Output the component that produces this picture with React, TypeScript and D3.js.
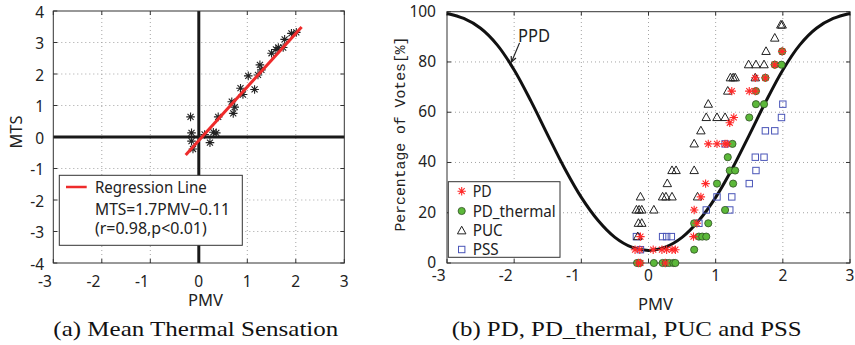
import React from "react";
import * as d3 from "d3";

// ---------- data ----------
const pmvTicks = [-3, -2, -1, 0, 1, 2, 3];
const mtsTicks = [-4, -3, -2, -1, 0, 1, 2, 3, 4];
const pctTicks = [0, 20, 40, 60, 80, 100];

// (a) MTS vs PMV
const mtsPMV = [-0.17, -0.15, -0.15, -0.12, 0.12, 0.23, 0.3, 0.36, 0.4, 0.68, 0.71, 0.74, 0.86, 0.91, 1.02, 1.15, 1.22, 1.26, 1.29, 1.5, 1.59, 1.64, 1.74, 1.77, 1.91, 2.01];
const mtsValues = [0.64, 0.13, -0.13, -0.38, 0.08, -0.18, 0.15, 0.13, 0.64, 1.12, 0.75, 0.95, 1.55, 1.35, 1.94, 1.51, 1.97, 2.29, 2.13, 2.66, 2.78, 2.84, 2.84, 3.1, 3.29, 3.32];
const regSlope = 1.7;
const regIntercept = -0.11;
const regRange = [-0.27, 2.12];

// (b) PD, PD_thermal, PUC, PSS
const pdPMV = [-0.15, -0.12, 0.25, -0.2, -0.13, 0.07, 0.2, 0.27, 0.35, 0.4, -0.12, 0.67, 0.72, 0.68, 0.78, 0.85, 0.89, 1.02, 1.14, 1.17, 1.21, 1.27, 1.24, 1.5, 1.59, 1.59, 1.74, 1.88, 1.99];
const pdValues = [0, 0, 0, 5.3, 5.3, 5.3, 5.3, 5.3, 5.3, 5.3, 10.5, 10.5, 15.8, 21.1, 26.3, 31.6, 47.4, 47.4, 47.4, 47.4, 55.8, 57.9, 68.4, 68.4, 68.4, 73.7, 73.7, 78.9, 84.2];

const pdtPMV = [-0.17, -0.13, 0.08, 0.21, 0.26, 0.31, 0.37, 0.4, 0.68, 0.75, 0.8, 0.86, 0.68, 0.89, 1.14, 1.02, 1.26, 1.21, 1.29, 1.18, 1.25, 1.5, 1.6, 1.72, 1.6, 1.74, 1.88, 1.98, 1.99];
const pdtValues = [0, 0, 0, 0, 0, 0, 0, 0, 5.3, 10.5, 10.5, 10.5, 15.8, 15.8, 21.1, 31.6, 31.6, 36.8, 36.8, 42.1, 47.4, 57.9, 63.2, 63.2, 68.4, 73.7, 78.9, 78.9, 84.2];

const pucPMV = [-0.12, -0.18, -0.14, -0.1, -0.15, -0.1, -0.16, 0.08, 0.28, 0.21, 0.26, 0.35, 0.35, 0.41, 0.68, 0.73, 0.68, 0.78, 0.86, 1.02, 1.14, 0.89, 1.18, 1.22, 1.26, 1.29, 1.59, 1.49, 1.6, 1.72, 1.75, 1.88, 1.97, 1.99];
const pucValues = [26.3, 21.1, 21.1, 21.1, 15.8, 15.8, 10.5, 21.1, 31.6, 26.3, 26.3, 26.3, 36.8, 36.8, 36.8, 26.3, 47.4, 52.6, 57.9, 57.9, 57.9, 63.2, 68.4, 73.7, 73.7, 73.7, 73.7, 78.9, 78.9, 78.9, 84.2, 89.5, 94.7, 94.7];

const pssPMV = [-0.18, 0.21, 0.27, 0.34, -0.12, 0.75, 0.86, 1.21, 1.02, 1.24, 1.5, 1.6, 1.59, 1.72, 1.14, 1.74, 1.88, 1.98, 2.0];
const pssValues = [10.5, 10.5, 10.5, 10.5, 5.3, 15.8, 21.1, 21.1, 26.3, 26.3, 31.6, 36.8, 42.1, 42.1, 47.4, 52.6, 52.6, 57.9, 63.2];

// PPD curve
const ppdPMV = [-3, -2.75, -2.5, -2.25, -2, -1.75, -1.5, -1.25, -1, -0.75, -0.5, -0.25, 0, 0.25, 0.5, 0.75, 1, 1.25, 1.5, 1.75, 2, 2.25, 2.5, 2.75, 3];
const ppdValues = [99.3, 97.3, 93.4, 86.7, 76.8, 64.4, 50.9, 37.7, 26.1, 16.9, 10.2, 6.3, 5.0, 6.3, 10.2, 16.9, 26.1, 37.7, 50.9, 64.4, 76.8, 86.7, 93.4, 97.3, 99.3];

const legendLabelsB = ["PD", "PD_thermal", "PUC", "PSS"];
const legendWidthsB = [19, 83, 30, 26];

// ---------- styles ----------
const SANS = "'Noto Sans', 'Liberation Sans', sans-serif";
const RED = "#ff2a2a";
const GREEN = "#5cb83a";
const BLUE = "#4a55b8";

function asteriskPath(r: number) {
  const d = r * 0.7071;
  return `M${-r},0L${r},0M0,${-r}L0,${r}M${-d},${-d}L${d},${d}M${-d},${d}L${d},${-d}`;
}
function trianglePath(s: number) {
  const h = s * 0.9;
  return `M0,${-h * 0.6}L${s / 2},${h * 0.4}L${-s / 2},${h * 0.4}Z`;
}

export default function App() {
  // scales (a)
  const xL = d3.scaleLinear().domain([-3, 3]).range([53.3, 344.3]);
  const yL = d3.scaleLinear().domain([-4, 4]).range([263, 11]);
  // scales (b)
  const xR = d3.scaleLinear().domain([-3, 3]).range([447, 850]);
  const yR = d3.scaleLinear().domain([0, 100]).range([263, 11.7]);

  const regLine = d3.line<number>().x((v) => xL(v)).y((v) => yL(regSlope * v + regIntercept));
  const ppdLine = d3
    .line<number>()
    .x((_, i) => xR(ppdPMV[i]))
    .y((v) => yR(v))
    .curve(d3.curveCatmullRom.alpha(0.5));

  const tickLen = 4;
  const grid = { stroke: "#9a9a9a", strokeWidth: 0.9, strokeDasharray: "1,3" };

  const xTickLabel = (v: number, x: number, y: number, key: string) =>
    v < 0 ? (
      <text key={key} x={x - 1.5} y={y} textAnchor="end" fontSize={15.5} fontFamily={SANS} fill="#222">
        {"-" + Math.abs(v)}
      </text>
    ) : (
      <text key={key} x={x} y={y} textAnchor="middle" fontSize={15.5} fontFamily={SANS} fill="#222">
        {String(v)}
      </text>
    );

  // PPD annotation anchor (data coords)
  const arrowTip = [xR(-2.04), yR(80)];
  const arrowTail = [xR(-1.92), yR(87.6)];
  const ang = Math.atan2(arrowTip[1] - arrowTail[1], arrowTip[0] - arrowTail[0]);
  const ah = 6;
  const a1 = [arrowTip[0] - ah * Math.cos(ang - 0.45), arrowTip[1] - ah * Math.sin(ang - 0.45)];
  const a2 = [arrowTip[0] - ah * Math.cos(ang + 0.45), arrowTip[1] - ah * Math.sin(ang + 0.45)];

  return (
    <div style={{ position: "absolute", left: 0, top: 0 }}>
      <svg width={855} height={345} viewBox="0 0 855 345" style={{ display: "block", background: "#fff" }}>
        <rect x={0} y={0} width={855} height={345} fill="#fff" />

        {/* ================= (a) ================= */}
        <g>
          {pmvTicks.slice(1, -1).map((v) => (
            <line key={"gx" + v} x1={xL(v)} x2={xL(v)} y1={yL(-4)} y2={yL(4)} {...grid} />
          ))}
          {mtsTicks.slice(1, -1).map((v) => (
            <line key={"gy" + v} x1={xL(-3)} x2={xL(3)} y1={yL(v)} y2={yL(v)} {...grid} />
          ))}
          {pmvTicks.map((v) => (
            <g key={"tx" + v}>
              <line x1={xL(v)} x2={xL(v)} y1={yL(-4)} y2={yL(-4) - tickLen} stroke="#333" />
              <line x1={xL(v)} x2={xL(v)} y1={yL(4)} y2={yL(4) + tickLen} stroke="#333" />
            </g>
          ))}
          {mtsTicks.map((v) => (
            <g key={"ty" + v}>
              <line x1={xL(-3)} x2={xL(-3) + tickLen} y1={yL(v)} y2={yL(v)} stroke="#333" />
              <line x1={xL(3)} x2={xL(3) - tickLen} y1={yL(v)} y2={yL(v)} stroke="#333" />
            </g>
          ))}
          <line x1={xL(0)} x2={xL(0)} y1={yL(-4)} y2={yL(4)} stroke="#1a1a1a" strokeWidth={3} />
          <line x1={xL(-3)} x2={xL(3)} y1={yL(0)} y2={yL(0)} stroke="#1a1a1a" strokeWidth={3} />
          <rect x={xL(-3)} y={yL(4)} width={xL(3) - xL(-3)} height={yL(-4) - yL(4)} fill="none" stroke="#333" strokeWidth={1} />

          {mtsPMV.map((p, i) => (
            <path key={"m" + i} d={asteriskPath(4.3)} transform={`translate(${xL(p)},${yL(mtsValues[i])})`} stroke="#222" strokeWidth={1.1} fill="none" />
          ))}
          <path d={regLine(regRange) || ""} stroke="#ee2b2b" strokeWidth={3} fill="none" />

          {pmvTicks.map((v) => xTickLabel(v, xL(v), 287, "lx" + v))}
          {mtsTicks.map((v) => (
            <text key={"ly" + v} x={44} y={yL(v) + 6.5} textAnchor="end" fontSize={15.5} fontFamily={SANS} fill="#222">
              {v < 0 ? "-" + Math.abs(v) : String(v)}
            </text>
          ))}
          <text x={205.5} y={306} textAnchor="middle" fontSize={17} fontFamily={SANS} fill="#222" textLength={35} lengthAdjust="spacingAndGlyphs">
            PMV
          </text>
          <text transform="translate(21.5,132) rotate(-90)" textAnchor="middle" fontSize={16.5} fontFamily={SANS} fill="#222" textLength={33} lengthAdjust="spacingAndGlyphs">
            MTS
          </text>

          <rect x={59.3} y={175.3} width={183} height={70} fill="#fff" stroke="#333" strokeWidth={1} />
          <line x1={66} x2={86.7} y1={187} y2={187} stroke="#ee2b2b" strokeWidth={2.5} />
          <text x={95} y={193} fontSize={16} fontFamily={SANS} fill="#222" textLength={111.7} lengthAdjust="spacingAndGlyphs">
            Regression Line
          </text>
          <text x={95} y={214.7} fontSize={16} fontFamily={SANS} fill="#222" textLength={135} lengthAdjust="spacingAndGlyphs">
            MTS=1.7PMV−0.11
          </text>
          <text x={95} y={233.5} fontSize={16} fontFamily={SANS} fill="#222" textLength={111.7} lengthAdjust="spacingAndGlyphs">
            (r=0.98,p&lt;0.01)
          </text>
        </g>

        {/* ================= (b) ================= */}
        <g>
          {pmvTicks.slice(1, -1).map((v) => (
            <line key={"bgx" + v} x1={xR(v)} x2={xR(v)} y1={yR(0)} y2={yR(100)} {...grid} />
          ))}
          {pctTicks.slice(1, -1).map((v) => (
            <line key={"bgy" + v} x1={xR(-3)} x2={xR(3)} y1={yR(v)} y2={yR(v)} {...grid} />
          ))}
          {pmvTicks.map((v) => (
            <g key={"btx" + v}>
              <line x1={xR(v)} x2={xR(v)} y1={yR(0)} y2={yR(0) - tickLen} stroke="#333" />
              <line x1={xR(v)} x2={xR(v)} y1={yR(100)} y2={yR(100) + tickLen} stroke="#333" />
            </g>
          ))}
          {pctTicks.map((v) => (
            <g key={"bty" + v}>
              <line x1={xR(-3)} x2={xR(-3) + tickLen} y1={yR(v)} y2={yR(v)} stroke="#333" />
              <line x1={xR(3)} x2={xR(3) - tickLen} y1={yR(v)} y2={yR(v)} stroke="#333" />
            </g>
          ))}
          <rect x={xR(-3)} y={yR(100)} width={xR(3) - xR(-3)} height={yR(0) - yR(100)} fill="none" stroke="#333" strokeWidth={1} />

          <path d={ppdLine(ppdValues) || ""} stroke="#111" strokeWidth={3} fill="none" />

          {pssPMV.map((p, i) => (
            <rect key={"s" + i} x={xR(p) - 3.2} y={yR(pssValues[i]) - 3.2} width={6.4} height={6.4} fill="none" stroke={BLUE} strokeWidth={1} />
          ))}
          {pucPMV.map((p, i) => (
            <path key={"t" + i} d={trianglePath(8.5)} transform={`translate(${xR(p)},${yR(pucValues[i])})`} fill="none" stroke="#222" strokeWidth={1} />
          ))}
          {pdtPMV.map((p, i) => (
            <circle key={"c" + i} cx={xR(p)} cy={yR(pdtValues[i])} r={3.6} fill={GREEN} stroke="#2f4f22" strokeWidth={0.8} />
          ))}
          {pdPMV.map((p, i) => (
            <path key={"a" + i} d={asteriskPath(4.2)} transform={`translate(${xR(p)},${yR(pdValues[i])})`} stroke={RED} strokeWidth={1.1} fill="none" />
          ))}

          <line x1={arrowTail[0]} y1={arrowTail[1]} x2={arrowTip[0]} y2={arrowTip[1]} stroke="#222" strokeWidth={1.2} />
          <path d={`M${a1[0]},${a1[1]}L${arrowTip[0]},${arrowTip[1]}L${a2[0]},${a2[1]}`} stroke="#222" strokeWidth={1.2} fill="none" />
          <text x={518} y={41.7} fontSize={17.5} fontFamily={SANS} fill="#222" textLength={32} lengthAdjust="spacingAndGlyphs">
            PPD
          </text>

          {pmvTicks.map((v) => xTickLabel(v, xR(v), 281, "rx" + v))}
          {pctTicks.map((v) => (
            <text key={"ry" + v} x={436} y={yR(v) + 5} textAnchor="end" fontSize={15.5} fontFamily={SANS} fill="#222">
              {String(v)}
            </text>
          ))}
          <text x={655.5} y={310} textAnchor="middle" fontSize={17} fontFamily={SANS} fill="#222" textLength={35} lengthAdjust="spacingAndGlyphs">
            PMV
          </text>
          <text transform="translate(405,134) rotate(-90)" textAnchor="middle" fontSize={15} fontFamily="'Liberation Mono', 'DejaVu Sans Mono', monospace" fill="#222" textLength={195} lengthAdjust="spacingAndGlyphs">
            Percentage of Votes[%]
          </text>

          <rect x={448.3} y={181.7} width={111.7} height={75.6} fill="#fff" stroke="#333" strokeWidth={1} />
          {legendLabelsB.map((lab, i) => {
            const base = [196.7, 216.5, 236.3, 255][i];
            const cy = base - 5.5;
            const cx = 461.7;
            let marker: React.ReactNode = null;
            if (i === 0) marker = <path d={asteriskPath(4.2)} transform={`translate(${cx},${cy})`} stroke={RED} strokeWidth={1.1} fill="none" />;
            if (i === 1) marker = <circle cx={cx} cy={cy} r={3.6} fill={GREEN} stroke="#2f4f22" strokeWidth={0.8} />;
            if (i === 2) marker = <path d={trianglePath(8.5)} transform={`translate(${cx},${cy})`} fill="none" stroke="#222" strokeWidth={1} />;
            if (i === 3) marker = <rect x={cx - 3.2} y={cy - 3.2} width={6.4} height={6.4} fill="none" stroke={BLUE} strokeWidth={1} />;
            return (
              <g key={"lg" + i}>
                {marker}
                <text x={472.7} y={base} fontSize={15.5} fontFamily={SANS} fill="#222" textLength={legendWidthsB[i]} lengthAdjust="spacingAndGlyphs">
                  {lab}
                </text>
              </g>
            );
          })}
        </g>

        <text x={53.3} y={336} fontSize={22} fontFamily="'Liberation Serif', 'Times New Roman', serif" fill="#111" textLength={285} lengthAdjust="spacingAndGlyphs">
          (a) Mean Thermal Sensation
        </text>
        <text x={451.7} y={336} fontSize={22} fontFamily="'Liberation Serif', 'Times New Roman', serif" fill="#111" textLength={350} lengthAdjust="spacingAndGlyphs">
          (b) PD, PD_thermal, PUC and PSS
        </text>
      </svg>
    </div>
  );
}
